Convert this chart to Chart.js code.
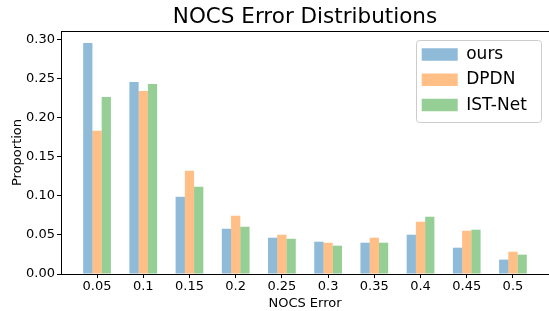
<!DOCTYPE html>
<html>
<head>
<meta charset="utf-8">
<script src="https://cdn.jsdelivr.net/npm/chart.js@4"></script>
<style>
html, body { margin: 0; padding: 0; background: #fff; overflow: hidden; }
canvas { display: block; }
</style>
</head>
<body>
<canvas id="c" width="549" height="311"></canvas>
<script>
// ---- data ----
const categories = ['0.05', '0.1', '0.15', '0.2', '0.25', '0.3', '0.35', '0.4', '0.45', '0.5'];
const ours   = [0.296, 0.246, 0.099, 0.058, 0.0465, 0.0414, 0.0401, 0.0504, 0.0337, 0.0184];
const dpdn   = [0.1835, 0.2347, 0.1323, 0.0747, 0.0504, 0.0401, 0.0465, 0.067, 0.0555, 0.0286];
const istNet = [0.227, 0.2437, 0.1118, 0.0606, 0.0452, 0.0363, 0.0401, 0.0734, 0.0568, 0.0248];
const yTicks = [0, 0.05, 0.10, 0.15, 0.20, 0.25, 0.30];
const seriesNames = ['ours', 'DPDN', 'IST-Net'];

const FONT = 'DejaVu Sans';
Chart.defaults.color = '#000';
Chart.defaults.font.family = FONT;

const toPoints = arr => arr.map((v, i) => ({ x: i, y: v }));

// place the legend in the upper right of the plot and draw its frame
const legendPlace = {
  id: 'legendPlace',
  afterLayout(chart) {
    const lg = chart.legend, ca = chart.chartArea;
    const w = lg.width, h = lg.height;
    lg.left = ca.right - 135.6;
    lg.top = ca.top + 6.7;
    lg.right = lg.left + Math.max(w, 130);
    lg.width = lg.right - lg.left;
    lg.bottom = lg.top + 90;
    lg.height = 90;
  },
  beforeDraw(chart) {
    const ca = chart.chartArea, ctx = chart.ctx;
    ctx.save();
    ctx.beginPath();
    ctx.roundRect(Math.round(ca.right - 133.5) + 0.5, Math.round(ca.top + 9) + 0.5, 125, 82, 3);
    ctx.fillStyle = 'rgba(255,255,255,0.8)';
    ctx.fill();
    ctx.strokeStyle = '#cccccc';
    ctx.lineWidth = 1;
    ctx.stroke();
    ctx.restore();
  }
};

new Chart(document.getElementById('c'), {
  type: 'bar',
  data: {
    datasets: [
      { label: seriesNames[0], data: toPoints(ours),   backgroundColor: 'rgba(31,119,180,0.5)', borderWidth: 0 },
      { label: seriesNames[1], data: toPoints(dpdn),   backgroundColor: 'rgba(255,127,14,0.5)', borderWidth: 0 },
      { label: seriesNames[2], data: toPoints(istNet), backgroundColor: 'rgba(44,160,44,0.5)',  borderWidth: 0 }
    ]
  },
  options: {
    responsive: false,
    animation: false,
    devicePixelRatio: 1,
    categoryPercentage: 0.6,
    barPercentage: 1.0,
    layout: { padding: 0 },
    scales: {
      x: {
        type: 'linear',
        position: 'bottom',
        min: -0.78,
        max: 9.78,
        bounds: 'data',
        offset: false,
        grid: { display: true, offset: false, drawOnChartArea: false, drawTicks: true, tickLength: 4, tickColor: '#000', tickWidth: 1 },
        border: { display: true, color: '#000', width: 1 },
        ticks: {
          autoSkip: false, maxRotation: 0, minRotation: 0, padding: 1,
          font: { family: FONT, size: 13 }, color: '#000',
          callback: (v, i) => categories[i]
        },
        afterBuildTicks: s => { s.ticks = categories.map((c, i) => ({ value: i })); },
        afterFit: s => { s.height = 37; },
        title: { display: true, text: 'NOCS Error', font: { family: FONT, size: 13 }, color: '#000', padding: { top: 0, bottom: 0 } }
      },
      x2: {
        type: 'linear',
        position: 'top',
        display: true,
        grid: { display: true, drawOnChartArea: false, drawTicks: false },
        ticks: { display: false },
        border: { display: true, color: '#000', width: 1 },
        afterFit: s => { s.height = 0; }
      },
      y: {
        type: 'linear',
        min: 0,
        max: 0.3115,
        bounds: 'data',
        grid: { display: true, drawOnChartArea: false, drawTicks: true, tickLength: 4, tickColor: '#000', tickWidth: 1 },
        border: { display: true, color: '#000', width: 1 },
        ticks: {
          padding: 2, font: { family: FONT, size: 13 }, color: '#000',
          callback: v => v.toFixed(2)
        },
        afterBuildTicks: s => { s.ticks = yTicks.map(v => ({ value: v })); },
        afterFit: s => { s.width = 61; },
        title: { display: true, text: 'Proportion', font: { family: FONT, size: 13 }, color: '#000', padding: { top: 10, bottom: 0 } }
      }
    },
    plugins: {
      title: {
        display: true,
        text: 'NOCS Error Distributions',
        fullSize: false,
        font: { family: FONT, size: 21.5, weight: 'normal', lineHeight: 1.2 },
        color: '#000',
        padding: { top: 4.3, bottom: 0.9 }
      },
      legend: {
        display: true,
        position: 'chartArea',
        align: 'start',
        labels: {
          font: { family: FONT, size: 17 },
          color: '#000',
          boxWidth: 36,
          boxHeight: 12.5,
          padding: 8.3
        }
      },
      tooltip: { enabled: false }
    }
  },
  plugins: [legendPlace]
});
</script>
</body>
</html>
